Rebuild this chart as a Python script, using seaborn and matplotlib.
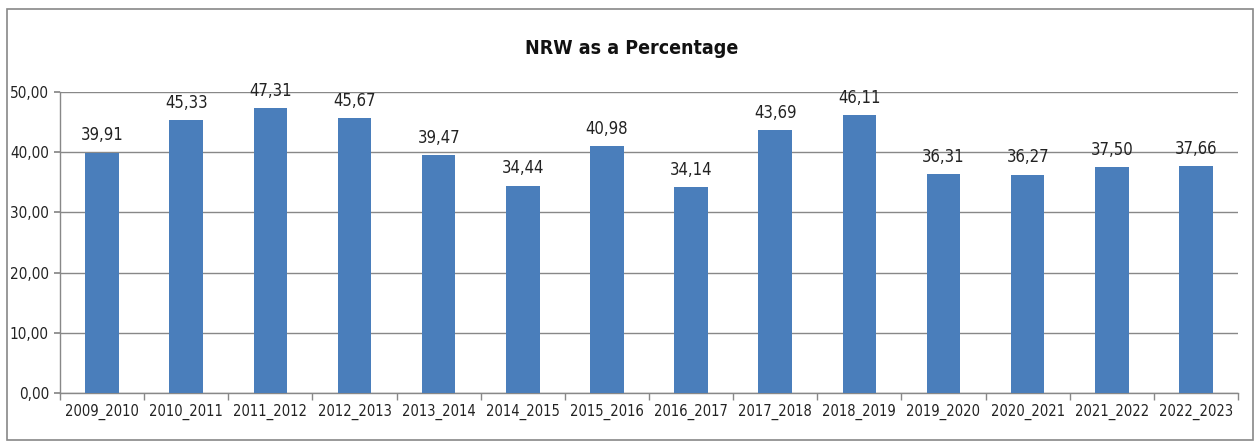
import matplotlib
matplotlib.use("Agg")
import matplotlib.pyplot as plt
import seaborn as sns
import pandas as pd
from matplotlib.patches import Rectangle
from matplotlib import font_manager

categories = ["2009_2010", "2010_2011", "2011_2012", "2012_2013", "2013_2014", "2014_2015",
              "2015_2016", "2016_2017", "2017_2018", "2018_2019", "2019_2020", "2020_2021",
              "2021_2022", "2022_2023"]
values = [39.91, 45.33, 47.31, 45.67, 39.47, 34.44, 40.98, 34.14, 43.69, 46.11, 36.31, 36.27, 37.50, 37.66]
yticks = [0, 10, 20, 30, 40, 50]
title = "NRW as a Percentage"

sns.set_theme(style="white")
plt.rcParams['font.family'] = ['DejaVu Sans']
plt.rcParams['font.stretch'] = 'condensed'

names = {f.name for f in font_manager.fontManager.ttflist}
title_family = ['Liberation Sans Narrow'] if 'Liberation Sans Narrow' in names else ['DejaVu Sans']
title_size = 17 if 'Liberation Sans Narrow' in names else 14

df = pd.DataFrame({"period": categories, "nrw": values})

fig = plt.figure(figsize=(12.59, 4.44), dpi=100)
ax = fig.add_axes([60/1259, 1-393/444, (1238-60)/1259, (393-92)/444])

sns.barplot(data=df, x="period", y="nrw", color="#4a7ebb", saturation=1, width=0.4, ax=ax,
            zorder=3, linewidth=0, edgecolor="none")

ax.set_ylim(0, 50)
ax.set_xlim(-0.5, len(categories)-0.5)
ax.set_yticks(yticks)
ax.set_yticklabels([f"{v:.2f}".replace(".", ",") for v in yticks], fontsize=11, color="#222222")
ax.yaxis.grid(True, color="#888888", linewidth=1, zorder=0)
ax.set_axisbelow(True)
ax.set_xlabel("")
ax.set_ylabel("")
ax.tick_params(axis="x", labelsize=10.5, colors="#222222", length=0, pad=8)
ax.tick_params(axis="y", left=True, length=4, color="#888888", pad=4)
ax.set_xticks(range(len(categories)))
ax.set_xticklabels(categories)
ax.set_xticks([i + 0.5 for i in range(-1, len(categories))], minor=True)
ax.tick_params(axis="x", which="minor", bottom=True, length=5, color="#888888")

for s in ["top", "right"]:
    ax.spines[s].set_visible(False)
for s in ["left", "bottom"]:
    ax.spines[s].set_color("#888888")
    ax.spines[s].set_linewidth(1)

for i, v in enumerate(values):
    ax.annotate(f"{v:.2f}".replace(".", ","), (i, v), xytext=(0, 6), textcoords="offset points",
                ha="center", va="bottom", fontsize=12, color="#222222")

fig.text(632/1259, 1-48/444, title, ha="center", va="center", fontsize=title_size,
         fontweight="bold", color="#111111", family=title_family)

fig.patches.append(Rectangle((7/1259, 4/444), (1253-7)/1259, (435-4)/444, transform=fig.transFigure,
                             fill=False, edgecolor="#888888", linewidth=1.2))

fig.savefig("out.png", dpi=100)
